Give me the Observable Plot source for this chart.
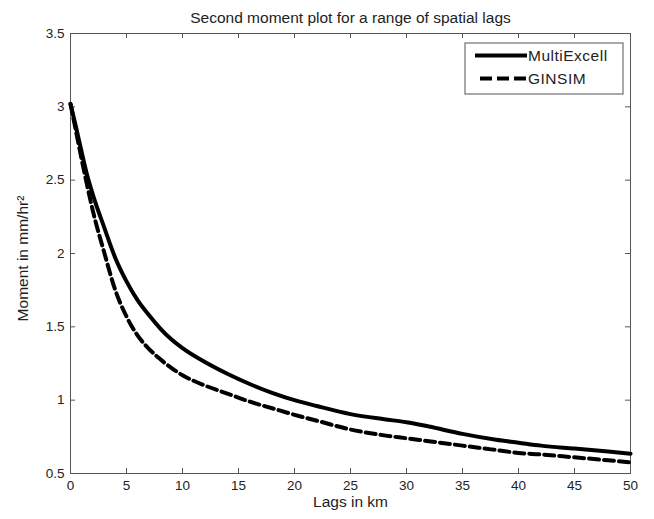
<!DOCTYPE html>
<html>
<head>
<meta charset="utf-8">
<script src="https://cdn.jsdelivr.net/npm/d3@7"></script>
<script src="https://cdn.jsdelivr.net/npm/@observablehq/plot@0.6"></script>
<style>
  html, body { margin: 0; padding: 0; background: #fff; }
  #chart svg { display: block; }
  #chart svg text.wide { letter-spacing: 0.5px; }
</style>
</head>
<body>
<div id="chart"></div>
<script>
const lags = [0, 0.5, 1, 1.5, 2, 3, 4, 5, 6, 7, 8, 9, 10, 12, 14, 16, 18, 20, 22, 25, 28, 30, 32, 35, 38, 40, 42, 45, 48, 50];
const multiExcell = [3.02, 2.86, 2.69, 2.53, 2.40, 2.18, 1.97, 1.81, 1.68, 1.58, 1.49, 1.415, 1.355, 1.26, 1.18, 1.11, 1.05, 1.00, 0.96, 0.905, 0.87, 0.85, 0.82, 0.77, 0.73, 0.71, 0.69, 0.67, 0.65, 0.635];
const ginsim      = [3.02, 2.83, 2.64, 2.46, 2.29, 2.01, 1.75, 1.57, 1.44, 1.35, 1.28, 1.22, 1.17, 1.10, 1.045, 0.99, 0.945, 0.90, 0.86, 0.80, 0.76, 0.74, 0.72, 0.69, 0.66, 0.64, 0.63, 0.61, 0.59, 0.575];
const seriesNames = ["MultiExcell", "GINSIM"];
const xTicks = [0, 5, 10, 15, 20, 25, 30, 35, 40, 45, 50];
const yTicks = [0.5, 1, 1.5, 2, 2.5, 3, 3.5];
const title = "Second moment plot for a range of spatial lags";
const xLabel = "Lags in km";
const yLabel = "Moment in mm/hr²";

const rows = [];
lags.forEach((l, i) => {
  rows.push({lag: l, value: multiExcell[i], series: seriesNames[0]});
  rows.push({lag: l, value: ginsim[i], series: seriesNames[1]});
});

const W = 654, H = 519;
const mt = 33, mb = 46, ml = 70, mr = 24;
const fw = W - ml - mr, fh = H - mt - mb;
const tick = 5;
const font = "'Liberation Sans', Arial, Helvetica, sans-serif";
const axisColor = "#555";
const textColor = "#222";
const lw = 4;
const dash = "10,5";

const chart = Plot.plot({
  width: W,
  height: H,
  marginTop: mt,
  marginBottom: mb,
  marginLeft: ml,
  marginRight: mr,
  style: {fontFamily: font, fontSize: "13px", color: textColor, background: "#fff"},
  x: {domain: [0, 50], ticks: xTicks},
  y: {domain: [0.5, 3.5], ticks: yTicks},
  marks: [
    Plot.frame({stroke: axisColor, strokeWidth: 1}),
    // inward ticks on all four sides
    Plot.ruleX(xTicks, {x: d => d, insetTop: fh - tick, stroke: axisColor}),
    Plot.ruleX(xTicks, {x: d => d, insetBottom: fh - tick, stroke: axisColor}),
    Plot.ruleY(yTicks, {y: d => d, insetRight: fw - tick, stroke: axisColor}),
    Plot.ruleY(yTicks, {y: d => d, insetLeft: fw - tick, stroke: axisColor}),
    Plot.axisX(xTicks, {tickSize: 0, tickPadding: 7, label: null, fontSize: 13.5, fill: textColor}),
    Plot.axisY(yTicks, {tickSize: 0, tickPadding: 6, label: null, fontSize: 13.5, fill: textColor, tickFormat: d => String(d)}),
    Plot.line(rows.filter(d => d.series === "MultiExcell"), {x: "lag", y: "value", stroke: "#000", strokeWidth: lw, curve: "monotone-x"}),
    Plot.line(rows.filter(d => d.series === "GINSIM"), {x: "lag", y: "value", stroke: "#000", strokeWidth: lw, strokeDasharray: dash, curve: "monotone-x"}),
    Plot.text([title], {frameAnchor: "top", dy: -22, fontSize: 15.5, fill: textColor, className: "wide"}),
    Plot.text([xLabel], {frameAnchor: "bottom", dy: 33, fontSize: 15.5, fill: textColor, className: "wide"}),
    Plot.text([yLabel], {frameAnchor: "left", textAnchor: "middle", dx: -47, dy: 5, rotate: -90, fontSize: 15.5, fill: textColor, className: "wide"})
  ]
});

// legend box (MATLAB-style), inside top-right corner
const svg = d3.select(chart);
const lg = svg.append("g").attr("transform", `translate(${ml + fw - 165}, ${mt + 10})`);
lg.append("rect").attr("width", 158).attr("height", 51).attr("fill", "#fff").attr("stroke", axisColor).attr("stroke-width", 1);
seriesNames.forEach((name, i) => {
  const y = 12.5 + i * 23;
  lg.append("line").attr("x1", i === 1 ? 15 : 10).attr("x2", 62).attr("y1", y).attr("y2", y)
    .attr("stroke", "#000").attr("stroke-width", lw)
    .attr("stroke-dasharray", i === 1 ? "12,5" : null);
  lg.append("text").attr("x", 63).attr("y", y).attr("dy", "0.35em")
    .attr("text-anchor", "start").attr("class", "wide")
    .attr("font-size", 15.5).attr("fill", textColor).attr("font-family", font).text(name);
});

document.getElementById("chart").appendChild(chart);
</script>
</body>
</html>
